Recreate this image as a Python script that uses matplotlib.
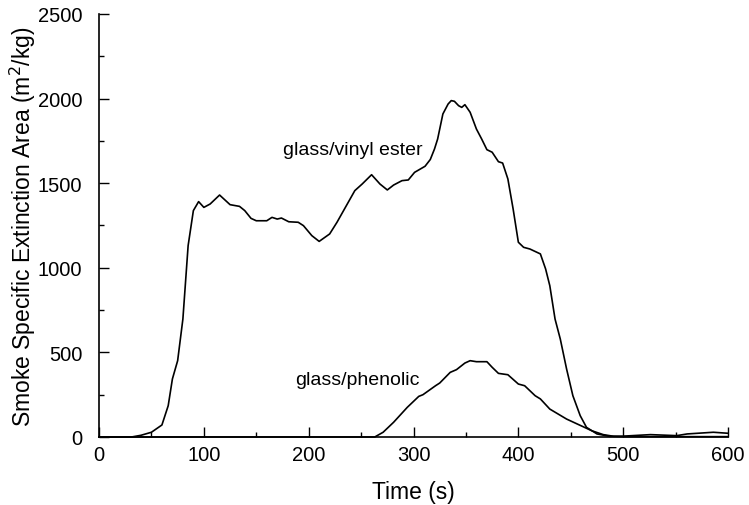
import matplotlib
matplotlib.use("Agg")
import matplotlib.pyplot as plt
from matplotlib.ticker import MultipleLocator

plt.rcParams['font.family'] = ['Liberation Sans', 'DejaVu Sans']

# glass/vinyl ester
t_vinyl = [0, 31, 40, 50, 60, 66, 70, 75, 80, 85, 90, 95, 100, 106, 115, 125, 134, 139, 145, 150,
           160, 165, 170, 174, 181, 190, 195, 203, 210, 220, 227, 235, 244, 251, 260, 268, 275, 281,
           289, 295, 301, 311, 316, 320, 323, 328, 333, 336, 339, 343, 346, 349, 354, 360, 365, 370,
           375, 381, 385, 390, 395, 400, 405, 411, 421, 426, 430, 435, 440, 446, 452, 459, 465, 475,
           487, 500, 526, 551, 561, 586, 600]
v_vinyl = [0, 0, 10, 28, 71, 185, 343, 451, 697, 1131, 1338, 1391, 1357, 1377, 1430, 1373, 1363,
           1338, 1292, 1278, 1278, 1298, 1288, 1294, 1272, 1269, 1249, 1190, 1156, 1200, 1269, 1357,
           1456, 1495, 1550, 1495, 1460, 1489, 1515, 1519, 1564, 1600, 1640, 1702, 1761, 1909, 1968,
           1988, 1984, 1958, 1948, 1964, 1919, 1820, 1761, 1698, 1683, 1627, 1619, 1525, 1348, 1151,
           1121, 1111, 1082, 993, 894, 697, 579, 402, 244, 126, 57, 18, 4, 5, 14, 8, 18, 28, 22]

# glass/phenolic
t_phen = [0, 263, 271, 281, 294, 305, 309, 321, 325, 335, 341, 349, 354, 360, 370, 375, 381, 390,
          400, 406, 416, 421, 430, 446, 461, 470, 481, 491, 500, 550, 600]
v_phen = [0, 0, 28, 87, 175, 240, 250, 303, 319, 382, 398, 437, 451, 445, 445, 412, 376, 368, 313,
          303, 244, 225, 165, 106, 63, 37, 14, 4, 2, 2, 2]

x_ticks = [0, 100, 200, 300, 400, 500, 600]
y_ticks = [0, 500, 1000, 1500, 2000, 2500]

fig = plt.figure(figsize=(7.49, 5.06), dpi=100)
ax = fig.add_axes([0.1322, 0.1344, 0.8398, 0.836])

ax.plot(t_vinyl, v_vinyl, color='black', lw=1.2, clip_on=False)
ax.plot(t_phen, v_phen, color='black', lw=1.2, clip_on=False)

ax.set_xlim(0, 600)
ax.set_ylim(0, 2500)
ax.set_xticks(x_ticks)
ax.set_yticks(y_ticks)
ax.xaxis.set_minor_locator(MultipleLocator(50))
ax.yaxis.set_minor_locator(MultipleLocator(250))

for s in ['top', 'right']:
    ax.spines[s].set_visible(False)
for s in ['left', 'bottom']:
    ax.spines[s].set_linewidth(1.2)

ax.tick_params(axis='both', which='major', direction='in', length=7, width=1.0, labelsize=14.5)
ax.tick_params(axis='both', which='minor', direction='in', length=3.6, width=1.0)
ax.tick_params(axis='x', which='major', pad=6)
ax.tick_params(axis='y', which='major', pad=12)

ax.set_xlabel('Time (s)', fontsize=16.5, labelpad=11)
ax.set_ylabel('Smoke Specific Extinction Area (m$^2$/kg)', fontsize=16.5, labelpad=0)

ax.text(242, 1702, 'glass/vinyl ester', fontsize=14, ha='center', va='center')
ax.text(246, 337, 'glass/phenolic', fontsize=14, ha='center', va='center')

fig.savefig('out.png', dpi=100)
